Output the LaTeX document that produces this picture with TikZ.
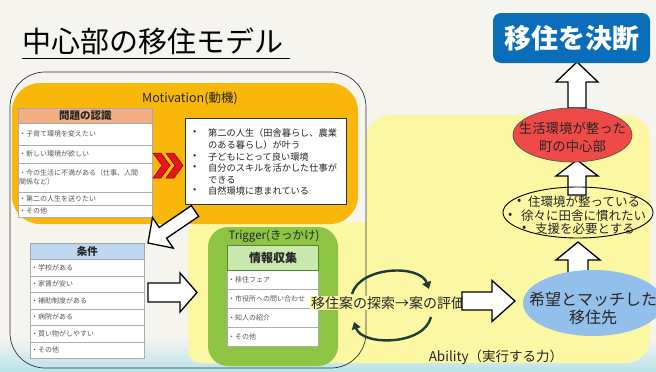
\documentclass[tikz,border=0pt]{standalone}
\usepackage{fontspec}
\setmainfont{Noto Sans CJK JP}
\usetikzlibrary{shapes.geometric,arrows.meta,calc}
\definecolor{paper}{HTML}{F6F4EF}
\definecolor{water}{HTML}{B8E2EC}
\definecolor{yel}{HTML}{FBF7A2}
\definecolor{orng}{HTML}{F9B70A}
\definecolor{grn}{HTML}{8DC444}
\definecolor{grnhd}{HTML}{C9E8AE}
\definecolor{grnln}{HTML}{4E8A2B}
\definecolor{salmon}{HTML}{F3AF83}
\definecolor{bluhd}{HTML}{BDD7EE}
\definecolor{redell}{HTML}{F04A48}
\definecolor{bluell}{HTML}{93C0EA}
\definecolor{decideblue}{HTML}{0A6DBA}
\definecolor{cyc}{HTML}{1E3B38}
\definecolor{chevred}{HTML}{E5161D}
\definecolor{txtgray}{HTML}{555555}
\newcommand\hollowarrow[5]{%
  \coordinate (hbase) at ($(#2)!#5pt!(#1)$);
  \draw[hollow] ($(#1)!#3pt!90:(#2)$) -- ($(hbase)!#3pt!90:(#2)$) -- ($(hbase)!#4pt!90:(#2)$) -- (#2)
     -- ($(hbase)!#4pt!-90:(#2)$) -- ($(hbase)!#3pt!-90:(#2)$) -- ($(#1)!#3pt!-90:(#2)$) -- cycle;}
\tikzset{
  hollow/.style={draw=black, fill=white, line width=1.3pt, line join=miter},
  cellbox/.style={draw=gray!65, fill=white, anchor=north west, inner sep=0pt, line width=0.6pt},
  celltext/.style={anchor=west, inner sep=0pt, font=\fontsize{7}{9}\selectfont, text=txtgray},
  hdr/.style={draw=gray!70, anchor=north west, inner sep=0pt, line width=0.8pt, font=\bfseries\fontsize{10.5}{12}\selectfont, text=black!85},
  bul/.style={anchor=west, inner sep=0pt, font=\fontsize{9.2}{11}\selectfont, text=black!85},
  chev/.style={fill=chevred, draw=red!50!black, line width=0.5pt},
  cycarrow/.style={draw=cyc, line width=2.4pt, -{Triangle[length=7pt,width=9pt]}},
}
\begin{document}
\begin{tikzpicture}[x=1pt,y=-1pt]
\useasboundingbox (0,0) rectangle (656,372);
\fill[paper] (0,0) rectangle (656,372);
\shade[top color=paper, bottom color=water] (0,338) rectangle (656,372);

% title
\node[font=\fontsize{29}{30}\selectfont, anchor=base west, inner sep=0pt] (title) at (22,52) {中心部の移住モデル};
\draw[line width=0.8pt] (22,58) -- (290,58);

% regions
\fill[yel, rounded corners=24] (366,115) rectangle (650,363);
\fill[yel, rounded corners=12] (188,222) rectangle (400,363);
\fill[orng, rounded corners=28] (12,83) rectangle (358,224);
\draw[line width=0.7pt, draw=black!80, rounded corners=35] (10,72) rectangle (366,368);
\fill[grn, rounded corners=20] (208,227) rectangle (338,366);

\node[font=\fontsize{12.5}{14}\selectfont, text=black!85] (mot) at (190,98) {Motivation(動機)};

% table 1
\node[cellbox, minimum width=134, minimum height=22] (t1a) at (18,123) {};
\node[cellbox, minimum width=134, minimum height=18] (t1b) at (18,145) {};
\node[cellbox, minimum width=134, minimum height=29] (t1c) at (18,163) {};
\node[cellbox, minimum width=134, minimum height=13] (t1d) at (18,192) {};
\node[cellbox, minimum width=134, minimum height=12] (t1e) at (18,205) {};
\node[hdr, fill=salmon, minimum width=134, minimum height=15] (t1h) at (18,108) {問題の認識};
\node[celltext] at ([xshift=1pt]t1a.west) {・子育て環境を変えたい};
\node[celltext] at ([xshift=1pt]t1b.west) {・新しい環境が欲しい};
\node[celltext, align=left] at ([xshift=1pt]t1c.west) {・今の生活に不満がある（仕事、人間\\関係など）};
\node[celltext] at ([xshift=1pt]t1d.west) {・第二の人生を送りたい};
\node[celltext] at ([xshift=1pt]t1e.west) {・その他};

% chevrons
\fill[chev] (153,153) -- (161,153) -- (170,165.5) -- (161,178) -- (153,178) -- (162,165.5) -- cycle;
\fill[chev] (166,153) -- (174,153) -- (183,165.5) -- (174,178) -- (166,178) -- (175,165.5) -- cycle;

% arrow from motivation to conditions
\coordinate (a1t) at (195,211);
\coordinate (a1p) at (148,243);
\hollowarrow{a1t}{a1p}{6.5}{18.5}{18}

% motivation box
\node[draw=black!80, fill=white, line width=0.8pt, minimum width=161, minimum height=86, anchor=north west] (wb) at (185,118) {};
\foreach \yy/\tt/\bb in {133/第二の人生（田舎暮らし、農業/•, 145/のある暮らし）が叶う/, 157/子どもにとって良い環境/•, 168/自分のスキルを活かした仕事が/•, 180/できる/, 191/自然環境に恵まれている/•}{
  \node[bul] at (193,\yy) {\bb};
  \node[bul] at (208,\yy) {\tt};
}

% table 2 conditions
\foreach \i/\yy/\tt in {1/259/学校がある, 2/275.5/家賃が安い, 3/292/補助制度がある, 4/308.5/病院がある, 5/325/買い物がしやすい, 6/341.5/その他}{
  \node[cellbox, minimum width=114, minimum height=16.5] (t2r\i) at (30,\yy) {};
  \node[celltext] at ([xshift=1pt]t2r\i.west) {・\tt};
}
\node[hdr, fill=bluhd, minimum width=114, minimum height=16] (t2h) at (30,243) {条件};

% arrow conditions -> trigger
\coordinate (a2t) at (148,292.5);
\coordinate (a2p) at (197,292.5);
\hollowarrow{a2t}{a2p}{9.5}{19.5}{17}

% trigger
\node[font=\fontsize{11.5}{13}\selectfont, text=black!85] (trig) at (274,236) {Trigger(きっかけ)};
\foreach \i/\yy/\tt in {1/270/移住フェア, 2/289/市役所への問い合わせ, 3/308/知人の紹介, 4/327/その他}{
  \node[cellbox, minimum width=91, minimum height=19] (t3r\i) at (227,\yy) {};
  \node[celltext] at ([xshift=1pt]t3r\i.west) {・\tt};
}
\node[hdr, fill=grnhd, draw=grnln, line width=1pt, minimum width=91, minimum height=25, font=\bfseries\fontsize{12}{14}\selectfont] (t3h) at (227,245) {情報収集};

% search cycle
\node[fill=yel, inner sep=1pt, font=\fontsize{14}{16}\selectfont, text=black!85] (search) at (388,303) {移住案の探索→案の評価};
\coordinate (c1s) at (352,294);
\coordinate (c1e) at (429,289);
\coordinate (c2s) at (431,317);
\coordinate (c2e) at (354,322);
\draw[cycarrow] (c1s) .. controls (360,266) and (420,264) .. (c1e);
\draw[cycarrow] (c2s) .. controls (424,346) and (362,346) .. (c2e);

% arrow to destination
\coordinate (a3t) at (462,301);
\coordinate (a3p) at (515,301);
\hollowarrow{a3t}{a3p}{9}{20.5}{23}

% up arrows
\coordinate (a4t) at (578,278);
\coordinate (a4p) at (578,242);
\hollowarrow{a4t}{a4p}{10}{22}{18}
\coordinate (a5t) at (577,195);
\coordinate (a5p) at (577,160);
\hollowarrow{a5t}{a5p}{9}{21}{16}
\coordinate (a6t) at (577,108);
\coordinate (a6p) at (577,62);
\hollowarrow{a6t}{a6p}{9}{21}{20}

% destination ellipse
\node[ellipse, fill=bluell, minimum width=140, minimum height=66, inner sep=0pt] (dest) at (593,303) {};
\node[align=center, font=\fontsize{16}{18}\selectfont, text=black!85] at (593,308) {希望とマッチした\\移住先};

% small ellipse
\node[ellipse, draw=black, line width=0.9pt, minimum width=150, minimum height=51, inner sep=0pt] (needs) at (578,212.5) {};
\node[anchor=west, inner sep=0pt, font=\fontsize{12.5}{14}\selectfont, text=black!85] at (517,202) {•};
\node[anchor=west, inner sep=0pt, font=\fontsize{12.5}{14}\selectfont, text=black!85] at (528,202) {住環境が整っている};
\node[anchor=west, inner sep=0pt, font=\fontsize{12.5}{14}\selectfont, text=black!85] at (508,215.5) {•};
\node[anchor=west, inner sep=0pt, font=\fontsize{12.5}{14}\selectfont, text=black!85] at (521,215.5) {徐々に田舎に慣れたい};
\node[anchor=west, inner sep=0pt, font=\fontsize{12.5}{14}\selectfont, text=black!85] at (522,229) {•};
\node[anchor=west, inner sep=0pt, font=\fontsize{12.5}{14}\selectfont, text=black!85] at (535,229) {支援を必要とする};

% red ellipse
\node[ellipse, fill=redell, draw=gray!60!black, line width=0.6pt, minimum width=119, minimum height=54, inner sep=0pt] (center) at (572.5,135) {};
\node[align=center, font=\fontsize{13.4}{18}\selectfont, text=black!85] at (572.5,137) {生活環境が整った\\町の中心部};

% decision
\node[fill=decideblue, rounded corners=8, minimum width=157, minimum height=50, inner sep=0pt, text=white, font=\bfseries\fontsize{27}{30}\selectfont] (decide) at (571.5,38) {移住を決断};

\node[font=\fontsize{13.5}{15}\selectfont, text=black!85] (abil) at (496,357) {Ability（実行する力）};
\end{tikzpicture}
\end{document}
